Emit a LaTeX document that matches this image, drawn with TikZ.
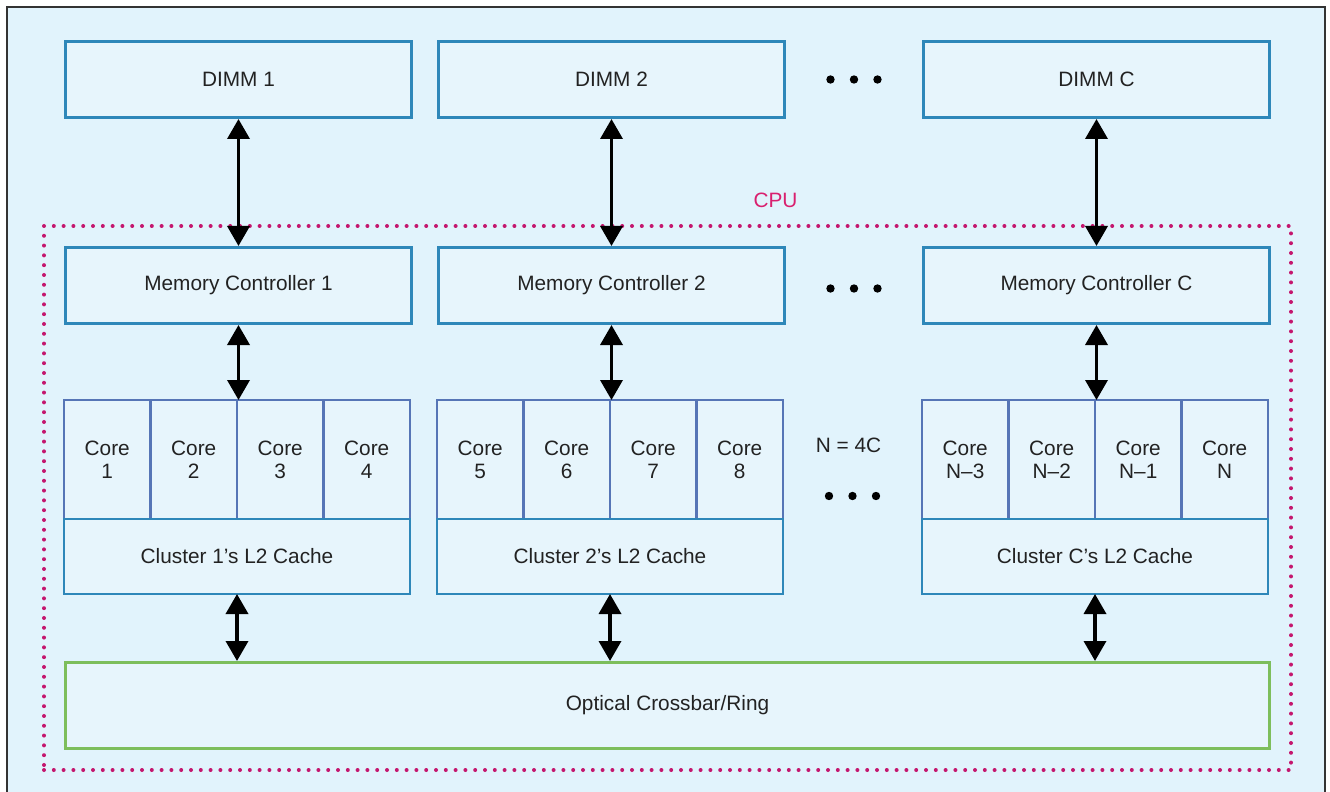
\documentclass[tikz,border=0pt]{standalone}
\usepackage{fontspec}
\setmainfont{Liberation Sans}
\usetikzlibrary{positioning, arrows.meta, fit, calc}

\definecolor{bgblue}{HTML}{E1F3FC}
\definecolor{boxfill}{HTML}{E7F5FC}
\definecolor{dimmline}{HTML}{2E87B9}
\definecolor{coreline}{HTML}{5675B6}
\definecolor{ringline}{HTML}{7DBE5C}
\definecolor{cpudots}{HTML}{C4166E}
\definecolor{cputext}{HTML}{D9206F}
\definecolor{txt}{HTML}{222222}

\begin{document}
\begin{tikzpicture}[
    node distance=10pt,
    font=\fontsize{10.4}{11.5}\selectfont,
    unit/.style={
        rectangle,
        draw=dimmline, line width=1.5pt,
        fill=boxfill, text=txt,
        minimum width=173pt,
        minimum height=38pt,
        inner sep=0pt
    },
    core/.style={
        rectangle,
        draw=coreline, line width=1.2pt,
        fill=boxfill, text=txt,
        minimum width=43.25pt,
        minimum height=59.5pt,
        inner sep=0pt, outer sep=0pt,
        align=center
    },
    cache/.style={
        rectangle,
        draw=dimmline, line width=1.2pt,
        fill=boxfill, text=txt,
        minimum width=173pt,
        minimum height=37.5pt,
        inner sep=0pt, outer sep=0pt
    },
    ring/.style={
        rectangle,
        draw=ringline, line width=1.5pt,
        fill=boxfill, text=txt,
        minimum width=602pt,
        minimum height=43pt,
        inner sep=0pt
    },
    cpubox/.style={
        rectangle,
        draw=cpudots, line width=2pt,
        line cap=round, dash pattern=on 0pt off 4.9pt,
        inner sep=10pt
    },
    link/.style={
        {Triangle[length=10pt,width=11pt]}-{Triangle[length=10pt,width=11pt]},
        line width=1.8pt, black
    }
]

\useasboundingbox (0,0) rectangle (665pt,-396pt);

% Frame
\draw[line width=1pt, black!80, fill=bgblue] (3.5pt,-3.5pt) rectangle (662.5pt,-410pt);

% DIMMs
\node[unit, anchor=north west] (dimm1) at (32pt,-20pt) {DIMM 1};
\node[unit, right=12pt of dimm1] (dimm2) {DIMM 2};
\node[unit, right=68pt of dimm2] (dimmC) {DIMM C};

% Memory controllers
\node[unit, below=63.5pt of dimm1] (mc1) {Memory Controller 1};
\node[unit, below=63.5pt of dimm2] (mc2) {Memory Controller 2};
\node[unit, below=63.5pt of dimmC] (mcC) {Memory Controller C};

% Cluster 1
\node[core, below right=37.5pt and 0pt of mc1.south west] (core1) {Core\\1};
\node[core, right=0pt of core1] (core2) {Core\\2};
\node[core, right=0pt of core2] (core3) {Core\\3};
\node[core, right=0pt of core3] (core4) {Core\\4};
\node[cache, below right=0pt and 0pt of core1.south west] (cache1) {Cluster 1’s L2 Cache};

% Cluster 2
\node[core, below right=37.5pt and 0pt of mc2.south west] (core5) {Core\\5};
\node[core, right=0pt of core5] (core6) {Core\\6};
\node[core, right=0pt of core6] (core7) {Core\\7};
\node[core, right=0pt of core7] (core8) {Core\\8};
\node[cache, below right=0pt and 0pt of core5.south west] (cache2) {Cluster 2’s L2 Cache};

% Cluster C
\node[core, below right=37.5pt and 0pt of mcC.south west] (coreN3) {Core\\N–3};
\node[core, right=0pt of coreN3] (coreN2) {Core\\N–2};
\node[core, right=0pt of coreN2] (coreN1) {Core\\N–1};
\node[core, right=0pt of coreN1] (coreN) {Core\\N};
\node[cache, below right=0pt and 0pt of coreN3.south west] (cacheC) {Cluster C’s L2 Cache};

% Interconnect
\node[ring, below right=33.5pt and 0pt of cache1.south west] (optical) {Optical Crossbar/Ring};

% CPU boundary
\node[cpubox, fit=(mc1)(mcC)(optical)] (cpu) {};
\node[text=cputext, inner sep=0pt, outer sep=0pt, above=8pt of cpu.north, xshift=54pt] (cpulabel) {CPU};

% Ellipses
\coordinate (gapA) at ($(dimm2.east)!0.5!(dimmC.west)$);
\coordinate (gapB) at ($(mc2.east)!0.5!(mcC.west)+(0,-1.5pt)$);
\coordinate (gapC) at ($(cache2.north east)!0.5!(cacheC.north west)+(0,11.5pt)$);
\foreach \g in {gapA,gapB,gapC}
    \foreach \dx in {-11.75pt,0pt,11.75pt}
        \fill[black] ([xshift=\dx]\g) circle (2.1pt);
\node[text=txt] (ncount) at ($(core8.east)!0.5!(coreN3.west)+(-2pt,7pt)$) {N = 4C};

% Links
\draw[link] (dimm1) -- (mc1);
\draw[link] (dimm2) -- (mc2);
\draw[link] (dimmC) -- (mcC);
\draw[link] (mc1) -- (mc1 |- core1.north);
\draw[link] (mc2) -- (mc2 |- core5.north);
\draw[link] (mcC) -- (mcC |- coreN3.north);
\draw[link] (cache1) -- (cache1 |- optical.north);
\draw[link] (cache2) -- (cache2 |- optical.north);
\draw[link] (cacheC) -- (cacheC |- optical.north);

\end{tikzpicture}
\end{document}
